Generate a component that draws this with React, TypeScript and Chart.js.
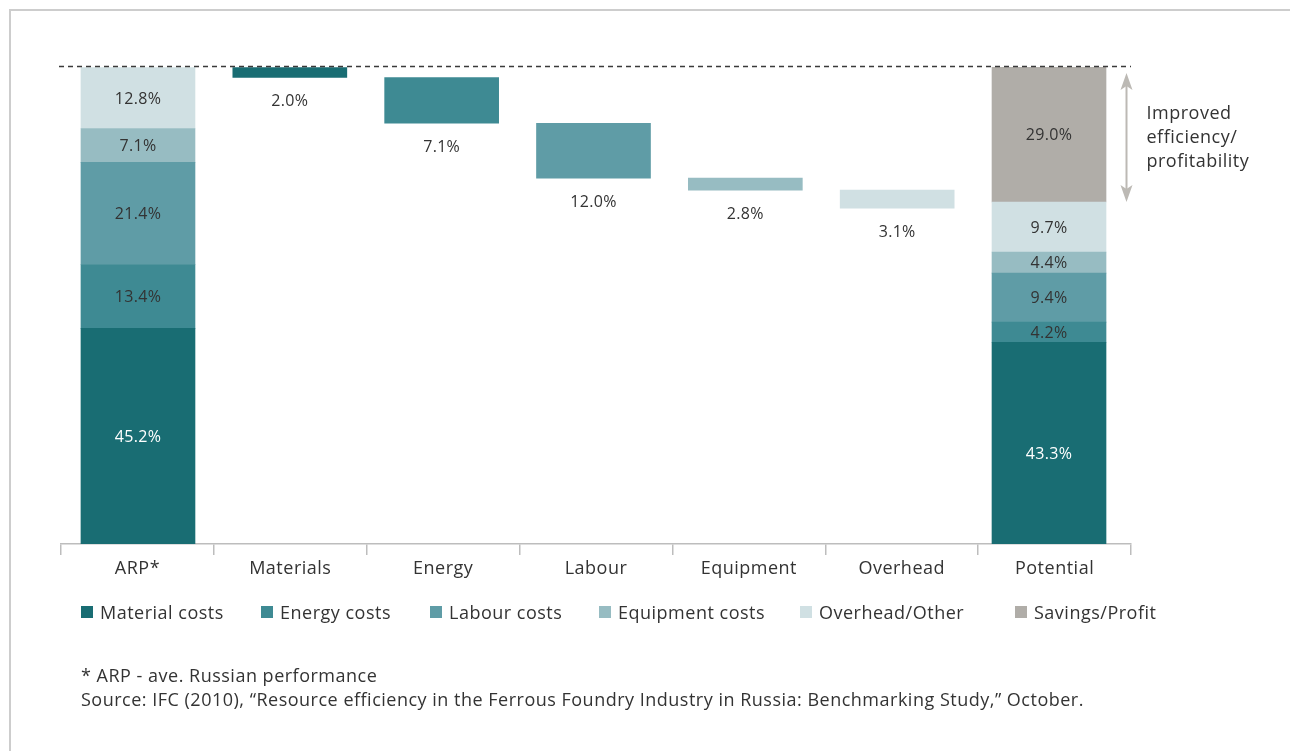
import React, { useEffect, useRef } from "react";
import { Chart, registerables } from "chart.js";

Chart.register(...registerables);

const categories = ["ARP*", "Materials", "Energy", "Labour", "Equipment", "Overhead", "Potential"];
const categoryPositions = [0, 1, 2, 3, 4, 5, 6];
const seriesNames = ["Material costs", "Energy costs", "Labour costs", "Equipment costs", "Overhead/Other", "Savings/Profit"];
const seriesColors = ["#196d73", "#3e8a93", "#5f9ca6", "#97bcc2", "#d0e0e3", "#b0ada8"];
// ARP shares (bar heights and printed labels): material, energy, labour, equipment, overhead
const arpShares = [45.2, 13.4, 21.4, 7.1, 12.8];
// step bars as drawn in the picture: materials, energy, labour, equipment, overhead
const stepBars = [2.1, 9.6, 11.5, 2.5, 3.8];
// printed step labels
const stepLabels = [2.0, 7.1, 12.0, 2.8, 3.1];
// potential bars as drawn: material, energy, labour, equipment, overhead, savings
const potentialBars = [42.3, 4.2, 10.3, 4.4, 10.5, 28.3];
// printed potential labels
const potentialLabels = [43.3, 4.2, 9.4, 4.4, 9.7, 29.0];
const yMax = 100;
const annotationLines = ["Improved", "efficiency/", "profitability"];
const footnotes = [
  "* ARP - ave. Russian performance",
  "Source: IFC (2010), “Resource efficiency in the Ferrous Foundry Industry in Russia: Benchmarking Study,” October.",
];

const FONT = "'Open Sans', 'Noto Sans', sans-serif";
const TEXT = "#333333";

function sum(a: number[]) {
  return a.reduce((x, y) => x + y, 0);
}

function buildDatasets() {
  const arpTotal = sum(arpShares);
  const datasets: any[] = [];
  for (let s = 0; s < seriesNames.length; s++) {
    const data: any[] = [];
    const labels: any = {};
    if (s < arpShares.length) {
      const start = sum(arpShares.slice(0, s));
      data.push({ x: categoryPositions[0], y: [start, start + arpShares[s]] });
      labels[0] = arpShares[s];
      const before = sum(stepBars.slice(0, s));
      data.push({ x: categoryPositions[s + 1], y: [arpTotal - before - stepBars[s], arpTotal - before] });
      labels[s + 1] = stepLabels[s];
    }
    const pStart = sum(potentialBars.slice(0, s));
    data.push({ x: categoryPositions[6], y: [pStart, pStart + potentialBars[s]] });
    labels[6] = potentialLabels[s];
    datasets.push({
      label: seriesNames[s],
      data,
      valueLabels: labels,
      xAxisID: "xb",
      yAxisID: "y",
      grouped: false,
      backgroundColor: seriesColors[s],
      borderWidth: 0,
      barThickness: 114,
    });
  }
  return { datasets, arpTotal };
}

export default function App() {
  const ref = useRef<HTMLCanvasElement | null>(null);

  useEffect(() => {
    document.body.style.margin = "0";
    const { datasets, arpTotal } = buildDatasets();

    const overlay = {
      id: "overlay",
      beforeDraw(chart: any) {
        try {
          (chart.ctx as any).letterSpacing = "0.5px";
        } catch (e) {}
      },
      afterDatasetsDraw(chart: any) {
        const ctx = chart.ctx;
        const ys = chart.scales.y;
        const area = chart.chartArea;
        // value labels
        chart.data.datasets.forEach((ds: any, di: number) => {
          const meta = chart.getDatasetMeta(di);
          meta.data.forEach((el: any, k: number) => {
            const pos = ds.data[k].x;
            const v = ds.valueLabels[pos];
            if (v == null) return;
            const top = Math.min(el.y, el.base);
            const bottom = Math.max(el.y, el.base);
            const stackCol = pos === 0 || pos === categories.length - 1;
            ctx.save();
            (ctx as any).letterSpacing = "0.3px";
            ctx.font = `16px ${FONT}`;
            ctx.textAlign = "center";
            ctx.textBaseline = "middle";
            ctx.fillStyle = stackCol && di === 0 ? "#ffffff" : TEXT;
            let y = stackCol ? (top + bottom) / 2 + 1 : bottom + 24;
            if (pos === categories.length - 1 && di === 0) y += 10;
            ctx.fillText(v.toFixed(1) + "%", el.x, y);
            ctx.restore();
          });
        });
        // dashed reference line
        const yTop = Math.round(ys.getPixelForValue(arpTotal)) - 0.5;
        ctx.save();
        ctx.strokeStyle = "#3a3a3a";
        ctx.lineWidth = 1.3;
        ctx.setLineDash([5, 4]);
        ctx.beginPath();
        ctx.moveTo(area.left - 2, yTop);
        ctx.lineTo(area.right, yTop);
        ctx.stroke();
        ctx.restore();

        // double arrow
        const savingsBottom = yMax - potentialBars[potentialBars.length - 1];
        const ax = area.right - 4.5;
        const a1 = ys.getPixelForValue(yMax) + 6;
        const a2 = ys.getPixelForValue(savingsBottom);
        ctx.save();
        ctx.strokeStyle = "#bcb9b4";
        ctx.fillStyle = "#bcb9b4";
        ctx.lineWidth = 2;
        ctx.beginPath();
        ctx.moveTo(ax, a1 + 8);
        ctx.lineTo(ax, a2 - 8);
        ctx.stroke();
        ctx.beginPath();
        ctx.moveTo(ax, a1);
        ctx.lineTo(ax - 6, a1 + 17);
        ctx.lineTo(ax, a1 + 13);
        ctx.lineTo(ax + 6, a1 + 17);
        ctx.closePath();
        ctx.fill();
        ctx.beginPath();
        ctx.moveTo(ax, a2);
        ctx.lineTo(ax - 6, a2 - 17);
        ctx.lineTo(ax, a2 - 13);
        ctx.lineTo(ax + 6, a2 - 17);
        ctx.closePath();
        ctx.fill();
        ctx.restore();

        // annotation text
        const mid = (a1 + a2) / 2;
        ctx.save();
        (ctx as any).letterSpacing = "0.5px";
        ctx.font = `18px ${FONT}`;
        ctx.fillStyle = TEXT;
        ctx.textAlign = "left";
        ctx.textBaseline = "middle";
        annotationLines.forEach((t, k) => {
          ctx.fillText(t, ax + 20, mid + (k - 1) * 24);
        });
        ctx.restore();
      },
    };

    const chart = new Chart(ref.current as HTMLCanvasElement, {
      type: "bar",
      data: { labels: categories, datasets },
      options: {
        animation: false,
        responsive: false,
        devicePixelRatio: 1,
        layout: { padding: { left: 61, right: 159, top: 67, bottom: 163 } },
        plugins: { legend: { display: false }, tooltip: { enabled: false } },
        scales: {
          x: {
            type: "category",
            position: "bottom",
            offset: true,
            grid: {
              display: true,
              offset: true,
              drawOnChartArea: false,
              drawTicks: true,
              tickLength: 11,
              color: "#bdbdbd",
              lineWidth: 1.5,
            },
            border: { display: true, color: "#bdbdbd", width: 1.5 },
            ticks: { color: TEXT, font: { family: FONT, size: 18 }, padding: 3, maxRotation: 0 },
            afterFit: (s: any) => {
              s.height = 44;
            },
          },
          xb: {
            type: "linear",
            position: "bottom",
            display: false,
            offset: false,
            grid: { offset: false },
            min: -0.507,
            max: 6.54,
          },
          y: { display: false, stacked: false, min: 0, max: yMax },
        },
      } as any,
      plugins: [overlay],
    });
    return () => chart.destroy();
  }, []);

  const legendX = [81, 261, 430, 599, 800, 1015];

  return (
    <div style={{ position: "fixed", left: 0, top: 0, width: 1290, height: 751, background: "#fff", overflow: "hidden", fontFamily: FONT, color: TEXT, letterSpacing: "0.5px" }}>
      <div style={{ position: "absolute", left: 9, top: 9, width: 1400, height: 900, borderTop: "2px solid #cdcdcd", borderLeft: "2px solid #cdcdcd" }} />
      <canvas ref={ref} width={1290} height={751} style={{ position: "absolute", left: 0, top: 0 }} />
      {seriesNames.map((n, i) => (
        <div key={n} style={{ position: "absolute", left: legendX[i], top: 600, height: 24, display: "flex", alignItems: "center", fontSize: 18, whiteSpace: "nowrap" }}>
          <span style={{ display: "inline-block", width: 12, height: 12, background: seriesColors[i], marginRight: 7 }} />
          <span>{n}</span>
        </div>
      ))}
      <div style={{ position: "absolute", left: 81, top: 663, fontSize: 18, lineHeight: "24px", whiteSpace: "nowrap" }}>
        {footnotes.map((f) => (
          <div key={f}>{f}</div>
        ))}
      </div>
    </div>
  );
}
